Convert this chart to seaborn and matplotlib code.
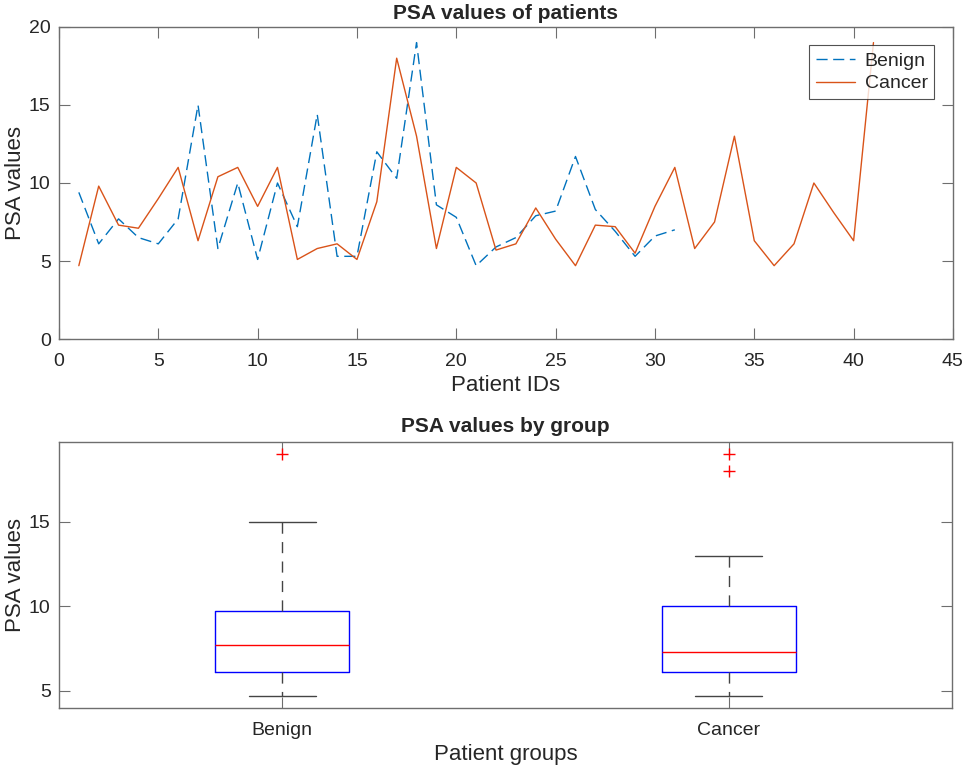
import numpy as np
import pandas as pd
import matplotlib
matplotlib.use("Agg")
import matplotlib.pyplot as plt
import seaborn as sns

# PSA values
benign = [9.4, 6.1, 7.7, 6.5, 6.1, 7.7, 15.0, 5.8, 10.0, 5.1, 10.0, 7.2, 14.4, 5.3, 5.3,
          12.0, 10.3, 19.0, 8.6, 7.8, 4.7, 5.9, 6.5, 7.9, 8.2, 11.7, 8.3, 6.9, 5.3, 6.6, 7.0]
cancer = [4.7, 9.8, 7.3, 7.1, 9.0, 11.0, 6.3, 10.4, 11.0, 8.5, 11.0, 5.1, 5.8, 6.1, 5.1,
          8.8, 18.0, 13.0, 5.8, 11.0, 10.0, 5.7, 6.1, 8.4, 6.4, 4.7, 7.3, 7.2, 5.5, 8.5,
          11.0, 5.8, 7.5, 13.0, 6.3, 4.7, 6.1, 10.0, 8.1, 6.3, 19.0]
groups = ["Benign", "Cancer"]

benign_df = pd.DataFrame({"id": np.arange(1, len(benign) + 1), "psa": benign})
cancer_df = pd.DataFrame({"id": np.arange(1, len(cancer) + 1), "psa": cancer})
box_df = pd.DataFrame({
    "group": ["Benign"] * len(benign) + ["Cancer"] * len(cancer),
    "psa": benign + cancer,
})

sns.set_style("white")
plt.rcParams["font.family"] = ["Liberation Sans", "DejaVu Sans"]

axis_col = "#6e6e6e"
text_col = "#262626"

fig = plt.figure(figsize=(9.65, 7.71), dpi=100)
ax1 = fig.add_axes([0.0611, 0.5603, 0.9264, 0.4047])
ax2 = fig.add_axes([0.0611, 0.0817, 0.9254, 0.345])

# top: line plot
sns.lineplot(data=benign_df, x="id", y="psa", ax=ax1, color="#0072BD", lw=1.0,
             label="Benign")
ax1.lines[-1].set_dashes([8, 4])
sns.lineplot(data=cancer_df, x="id", y="psa", ax=ax1, color="#D95319", lw=1.0,
             label="Cancer")
ax1.set_xlim(0, 45)
ax1.set_ylim(0, 20)
ax1.set_xticks(np.arange(0, 46, 5))
ax1.set_yticks(np.arange(0, 21, 5))
ax1.set_title("PSA values of patients", fontsize=15, fontweight="bold", pad=6)
ax1.set_xlabel("Patient IDs", fontsize=16, color=text_col)
ax1.set_ylabel("PSA values", fontsize=16, color=text_col)
leg = ax1.legend(loc="upper right", fontsize=14, frameon=True, fancybox=False,
                 handlelength=2.0, handletextpad=0.5, borderpad=0.35,
                 labelspacing=0.25, borderaxespad=0.95)
leg.get_frame().set_edgecolor("#262626")
leg.get_frame().set_linewidth(0.8)
for h in leg.get_lines():
    h.set_linewidth(1.0)

# bottom: box plot
sns.boxplot(data=box_df, x="group", y="psa", ax=ax2, order=groups, width=0.3,
            whis=1.5, fill=False, linewidth=1.0,
            boxprops=dict(color="#0000FF", linewidth=1.0),
            medianprops=dict(color="#FF0000", linewidth=1.0),
            whiskerprops=dict(color="#444444", linestyle=(0, (8, 6)), linewidth=1.0),
            capprops=dict(color="#444444", linewidth=1.0),
            capwidths=0.15,
            flierprops=dict(marker="+", markeredgecolor="#FF0000", markersize=9,
                            markeredgewidth=1.0))
ax2.set_xlim(-0.5, 1.5)
ax2.set_ylim(3.985, 19.715)
ax2.set_yticks([5, 10, 15])
ax2.set_title("PSA values by group", fontsize=15, fontweight="bold", pad=7)
ax2.set_xlabel("Patient groups", fontsize=16, color=text_col)
ax2.set_ylabel("PSA values", fontsize=16, color=text_col)

for ax in (ax1, ax2):
    ax.tick_params(direction="in", length=8, width=0.8, colors=axis_col,
                   labelcolor=text_col, labelsize=14, top=True, right=True,
                   left=True, bottom=True)
    ax.tick_params(axis="x", pad=10)
    ax.tick_params(axis="y", pad=6)
    ax.yaxis.set_label_coords(-0.037, 0.5)
    for s in ax.spines.values():
        s.set_color(axis_col)
        s.set_linewidth(1.0)
        s.set_visible(True)

fig.savefig("out.png", dpi=100)
